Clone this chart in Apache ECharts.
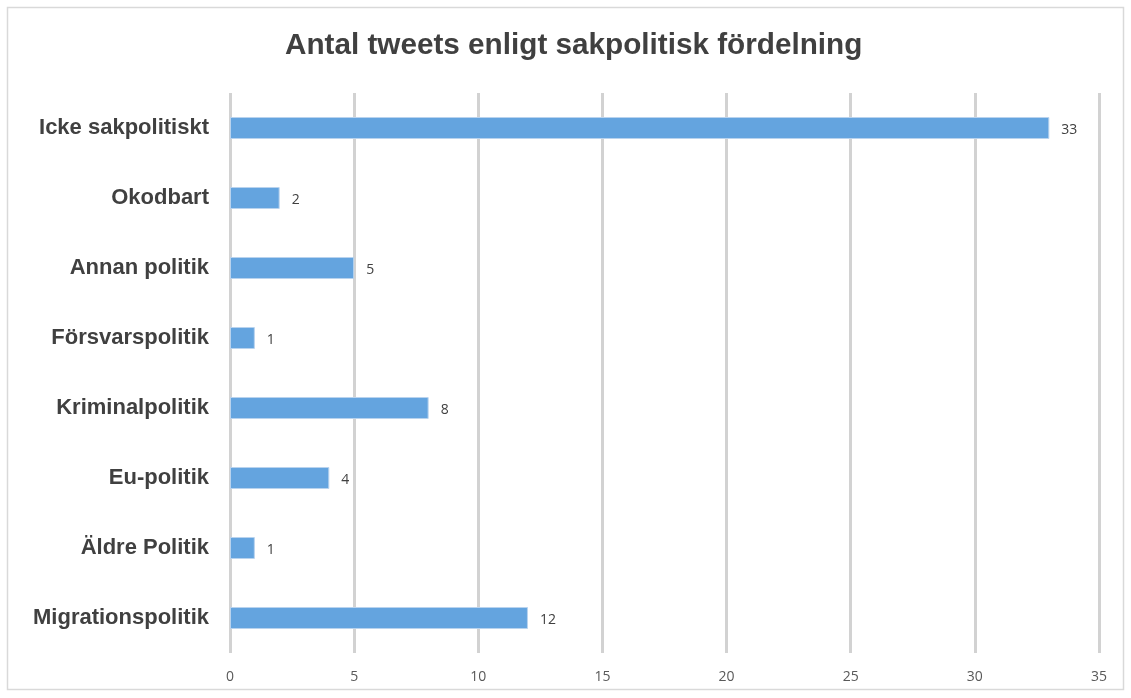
<!DOCTYPE html>
<html><head><meta charset="utf-8">
<script src="https://cdn.jsdelivr.net/npm/echarts@6/dist/echarts.min.js"></script>
<style>html,body{margin:0;padding:0;background:#fff}#c{width:1131px;height:698px}</style>
</head><body><div id="c"></div>
<script>
const categories = ["Icke sakpolitiskt","Okodbart","Annan politik","Försvarspolitik","Kriminalpolitik","Eu-politik","Äldre Politik","Migrationspolitik"];
const values = [33,2,5,1,8,4,1,12];
const xTicks = [0,5,10,15,20,25,30,35];
const chart = echarts.init(document.getElementById('c'));
chart.setOption({
  animation:false,
  backgroundColor:'#fff',
  graphic:[{type:'rect',shape:{x:7.5,y:7.5,width:1116,height:682},style:{fill:'none',stroke:'#d9d9d9',lineWidth:1.5},silent:true}],
  title:{text:'Antal tweets enligt sakpolitisk fördelning',left:280,top:26,
    textStyle:{fontFamily:'Liberation Sans',fontWeight:'bold',fontSize:29.7,color:'#404040'}},
  grid:{left:230,right:32,top:93,bottom:45},
  xAxis:{type:'value',min:xTicks[0],max:xTicks[xTicks.length-1],interval:5,
    axisLine:{show:false},axisTick:{show:false},
    axisLabel:{fontFamily:'Open Sans',fontSize:14,color:'#595959',margin:17},
    splitLine:{show:true,lineStyle:{color:'#d2d2d2',width:3}}},
  yAxis:{type:'category',data:categories,inverse:true,
    axisLine:{show:false},axisTick:{show:false},
    axisLabel:{fontFamily:'Liberation Sans',fontWeight:'bold',fontSize:22,color:'#404040',margin:21}},
  series:[{type:'bar',data:values,barWidth:22,
    itemStyle:{color:'#64a4df',borderColor:'#b9d3ee',borderWidth:1},
    label:{show:true,position:'right',distance:12,offset:[0,2],fontFamily:'Open Sans',fontSize:14,color:'#404040'}}]
});
</script></body></html>
